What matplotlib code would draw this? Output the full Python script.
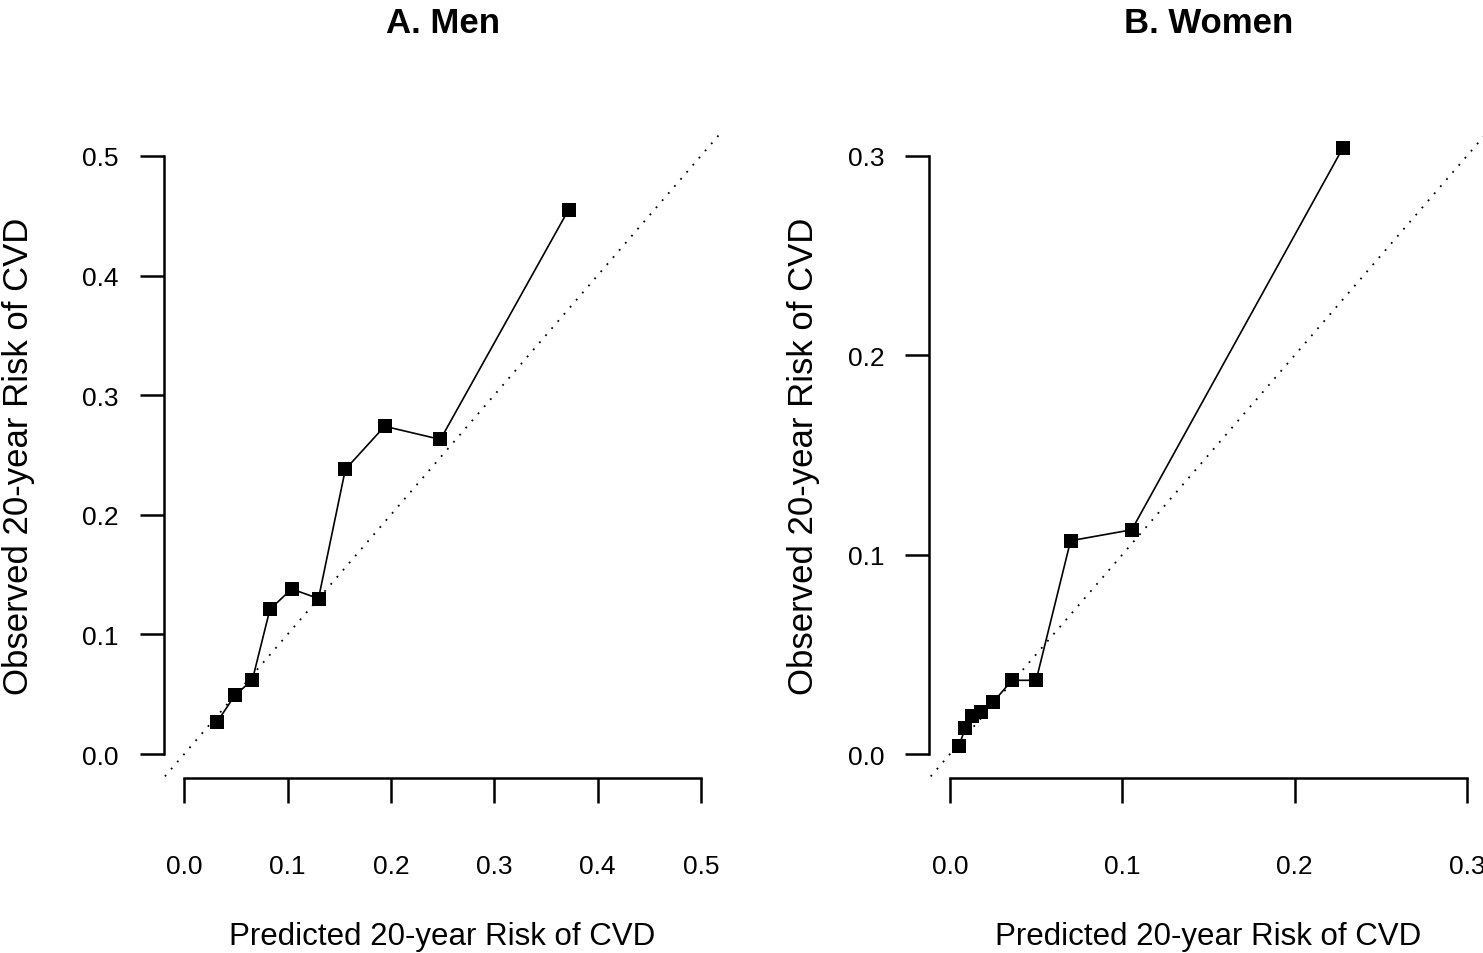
import matplotlib
matplotlib.use("Agg")
import matplotlib.pyplot as plt

# calibration data
men_pred = [0.032, 0.049, 0.066, 0.083, 0.104, 0.130, 0.156, 0.194, 0.248, 0.372]
men_obs = [0.027, 0.049, 0.062, 0.121, 0.138, 0.130, 0.238, 0.274, 0.263, 0.455]
women_pred = [0.005, 0.009, 0.013, 0.018, 0.025, 0.036, 0.050, 0.070, 0.1055, 0.228]
women_obs = [0.004, 0.013, 0.019, 0.021, 0.026, 0.037, 0.037, 0.107, 0.1125, 0.304]

men_ticks = [0.0, 0.1, 0.2, 0.3, 0.4, 0.5]
women_ticks = [0.0, 0.1, 0.2, 0.3]

titles = ["A. Men", "B. Women"]
xlab = "Predicted 20-year Risk of CVD"
ylab = "Observed 20-year Risk of CVD"

plt.rcParams['font.family'] = ['Liberation Sans', 'DejaVu Sans']

W, H = 1483, 954
fig = plt.figure(figsize=(W / 100, H / 100), dpi=100)

def px_axes(x0, x1, ytop, ybot):
    # pixel box -> figure fraction
    return fig.add_axes([x0 / W, (H - ybot) / H, (x1 - x0) / W, (ybot - ytop) / H])

ax1 = px_axes(163.5, 721.5, 133, 779)
ax2 = px_axes(929.3, 1487.6, 133, 779)

panels = [
    (ax1, men_pred, men_obs, men_ticks, -0.2596),
    (ax2, women_pred, women_obs, women_ticks, -0.2262),
]

for i, (ax, xp, yo, ticks, ylab_x) in enumerate(panels):
    top = ticks[-1]
    ext = 0.04 * top  # R style 4% padding
    ax.set_xlim(-ext, top + ext)
    ax.set_ylim(-ext, top + ext)

    # diagonal reference line
    ax.plot([-1, 1], [-1, 1], color='black', lw=1.3, dashes=(1, 4.2))
    ax.plot(xp, yo, color='black', lw=1.2, marker='s', markersize=10.5,
            markeredgewidth=0, zorder=3)

    for s in ['top', 'right']:
        ax.spines[s].set_visible(False)
    for s in ['left', 'bottom']:
        ax.spines[s].set_linewidth(1.8)
        ax.spines[s].set_bounds(0, top)

    ax.set_xticks(ticks)
    ax.set_yticks(ticks)
    ax.set_xticklabels(["%.1f" % t for t in ticks])
    ax.set_yticklabels(["%.1f" % t for t in ticks])
    ax.tick_params(axis='x', direction='out', length=18, width=1.8, pad=37, labelsize=19)
    ax.tick_params(axis='y', direction='out', length=17, width=1.8, pad=15.5, labelsize=19)

    ax.set_xlabel(xlab, fontsize=22.5)
    ax.xaxis.label.set_va('center')
    ax.xaxis.set_label_coords(0.5, -0.2446)
    ax.set_ylabel(ylab, fontsize=25)
    ax.yaxis.label.set_va('center')
    ax.yaxis.set_label_coords(ylab_x, 0.5)

    ax.set_title(titles[i], fontsize=25, fontweight='bold', y=1.0, pad=0)
    ax.title.set_position((0.5, (H - 24 - (H - 133)) / 646 + 1.0))
    ax.title.set_va('center')

fig.savefig("out.png", dpi=100)
